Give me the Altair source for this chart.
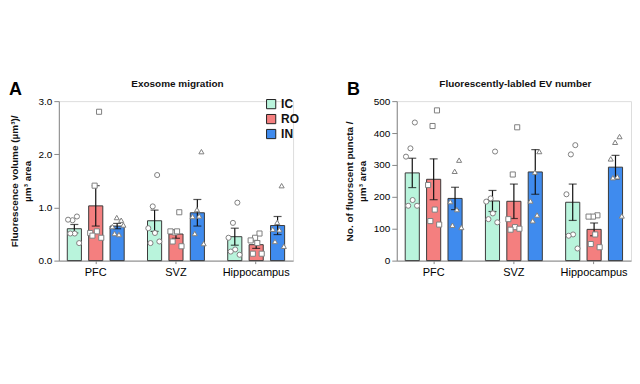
import altair as alt
import pandas as pd

FONT = "Liberation Sans"

regions = ["PFC", "SVZ", "Hippocampus"]
series = ["IC", "RO", "IN"]

# Panel A: Exosome migration (mean, SEM) per region -> [IC, RO, IN]
a_mean = {"PFC": [0.60, 1.03, 0.65], "SVZ": [0.75, 0.50, 0.90], "Hippocampus": [0.45, 0.30, 0.66]}
a_sem = {"PFC": [0.08, 0.38, 0.05], "SVZ": [0.20, 0.08, 0.25], "Hippocampus": [0.16, 0.07, 0.17]}
a_pts = {
    "PFC": {"IC": [0.83, 0.76, 0.77, 0.51, 0.51, 0.33],
            "RO": [2.80, 1.41, 0.52, 0.55, 0.47, 0.43],
            "IN": [0.76, 0.81, 0.64, 0.49, 0.51, 0.67]},
    "SVZ": {"IC": [1.61, 1.02, 0.61, 0.52, 0.33, 0.36],
            "RO": [0.91, 0.53, 0.55, 0.55, 0.36, 0.27],
            "IN": [2.05, 0.96, 0.83, 0.84, 0.51, 0.32]},
    "Hippocampus": {"IC": [1.09, 0.71, 0.43, 0.21, 0.17, 0.11],
                    "RO": [0.51, 0.43, 0.38, 0.33, 0.13, 0.13],
                    "IN": [1.41, 0.72, 0.59, 0.58, 0.36, 0.27]},
}

# Panel B: Fluorescently-labled EV number
b_mean = {"PFC": [275, 255, 195], "SVZ": [187, 186, 278], "Hippocampus": [183, 98, 293]}
b_sem = {"PFC": [46, 64, 35], "SVZ": [33, 54, 70], "Hippocampus": [57, 20, 37]}
b_pts = {
    "PFC": {"IC": [433, 352, 326, 190, 172, 172],
            "RO": [471, 422, 237, 160, 124, 113],
            "IN": [315, 280, 185, 160, 111, 104]},
    "SVZ": {"IC": [342, 195, 185, 148, 130, 120],
            "RO": [418, 270, 130, 105, 97, 100],
            "IN": [342, 277, 187, 143, 125]},
    "Hippocampus": {"IC": [362, 333, 208, 82, 78, 38],
                    "RO": [142, 138, 138, 82, 52, 42],
                    "IN": [389, 371, 319, 263, 260, 140]},
}

colors_a = ["#b9f4dc", "#f47f7f", "#3f8bee"]
colors_b = ["#a9dcc5", "#db7b7b", "#5386cf"]
shapes = ["circle", "square", "triangle-up"]

# slot layout for scattered points (spacers keep points centred on bars)
jitter_order = [2, 4, 1, 3, 0, 5]
slot_domain = []
for s in series:
    slot_domain += [f"{s}_a", f"{s}_b"] + [f"{s}{k}" for k in jitter_order] + [f"{s}_c", f"{s}_d"]


def frames(mean, sem, pts):
    rows = []
    for r in regions:
        for i, s in enumerate(series):
            m, e = mean[r][i], sem[r][i]
            rows.append({"region": r, "series": s, "mean": m, "lo": m - e, "hi": m + e})
    prow = []
    for r in regions:
        for s in series:
            for k, v in enumerate(pts[r][s]):
                prow.append({"region": r, "grp": s, "value": v, "slot": f"{s}{k}"})
    return pd.DataFrame(rows), pd.DataFrame(prow)


def panel(mean, sem, pts, colors, ymax, yvals, yfmt, ytitle, title, letter, lx, ly):
    bars_df, pts_df = frames(mean, sem, pts)
    xsc = alt.Scale(domain=regions, paddingInner=0.2, paddingOuter=0.06)
    x = alt.X("region:N", scale=xsc, title=None,
              axis=alt.Axis(labelAngle=0, tickSize=3, labelFontSize=11, labelPadding=3, grid=False))
    xoff = alt.XOffset("series:N", scale=alt.Scale(domain=series, paddingInner=0.34, paddingOuter=0.17))
    ysc = alt.Scale(domain=[0, ymax], nice=False)
    yax = alt.Axis(values=yvals, format=yfmt, title=ytitle, titleFontSize=10,
                   titleFontWeight="bold", titleColor="#111", titlePadding=6,
                   titleLineHeight=13, labelFontSize=10, grid=False)
    base = alt.Chart(bars_df)
    bars = base.mark_bar(stroke="#3a3a3a", strokeWidth=1).encode(
        x=x, xOffset=xoff,
        y=alt.Y("mean:Q", scale=ysc, axis=yax),
        color=alt.Color("series:N", scale=alt.Scale(domain=series, range=colors),
                        legend=alt.Legend(title=None, orient="none", legendX=lx, legendY=ly,
                                          symbolType="square", symbolSize=85,
                                          symbolStrokeColor="#222", symbolStrokeWidth=1,
                                          symbolOpacity=1,
                                          labelFontSize=12, labelFontWeight="bold",
                                          labelColor="#111", rowPadding=1, padding=0)),
    )
    rule = base.mark_rule(color="#111", strokeWidth=1.2).encode(
        x=x, xOffset=xoff, y=alt.Y("lo:Q", scale=ysc, axis=yax), y2="hi:Q")
    cap_hi = base.mark_tick(color="#111", thickness=1.2, size=8).encode(
        x=x, xOffset=xoff, y=alt.Y("hi:Q", scale=ysc, axis=yax))
    cap_lo = base.mark_tick(color="#111", thickness=1.2, size=8).encode(
        x=x, xOffset=xoff, y=alt.Y("lo:Q", scale=ysc, axis=yax))
    pxoff = alt.XOffset("slot:N", scale=alt.Scale(domain=slot_domain, paddingInner=0, paddingOuter=0))
    point_layers = []
    for s, shp in zip(series, shapes):
        point_layers.append(
            alt.Chart(pts_df).transform_filter(alt.datum.grp == s).mark_point(
                shape=shp, filled=True, fill="white", stroke="#808080",
                strokeWidth=1, size=26, opacity=1
            ).encode(x=x, xOffset=pxoff, y=alt.Y("value:Q", scale=ysc, axis=yax))
        )
    lab = alt.Chart(pd.DataFrame({"t": [letter]})).mark_text(
        fontSize=18, fontWeight="bold", font=FONT, align="left", baseline="alphabetic", color="#000"
    ).encode(text="t:N", x=alt.value(-50), y=alt.value(-6))
    ttl = alt.Chart(pd.DataFrame({"t": [title]})).mark_text(
        fontSize=10, fontWeight="bold", font=FONT, align="center", baseline="alphabetic", color="#111"
    ).encode(text="t:N", x=alt.value(119), y=alt.value(-14))
    return alt.layer(bars, rule, cap_hi, cap_lo, *point_layers, lab, ttl).resolve_scale(
        xOffset="independent"
    ).properties(width=235, height=160)


chart_a = panel(a_mean, a_sem, a_pts, colors_a, 3.0, [0, 1, 2, 3], ".1f",
                ["Fluorescence volume (µm³)/", "µm³ area"], "Exosome migration", "A", 207, -3)
chart_b = panel(b_mean, b_sem, b_pts, colors_b, 500, [0, 100, 200, 300, 400, 500], "d",
                ["No. of fluorscent puncta /", "µm³ area"], "Fluorescently-labled EV number", "B", 211, -15)

chart = alt.hconcat(chart_a, chart_b, spacing=104, bounds="flush").properties(
    padding={"left": 0, "top": 70, "right": 0, "bottom": 0}
).configure_view(stroke=None).configure_axis(
    grid=False, domainColor="#111", domainWidth=1.5, tickColor="#111", tickWidth=1.2,
    tickSize=4, labelColor="#333", labelFont=FONT, titleFont=FONT
).configure_legend(labelFont=FONT).configure(font=FONT)

chart.save("out.html", embed_options={"renderer": "svg", "actions": False})
